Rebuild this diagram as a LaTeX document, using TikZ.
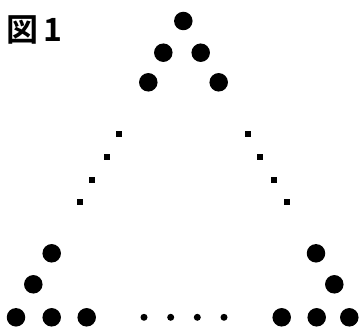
\documentclass[tikz,border=0pt]{standalone}
\usepackage{fontspec}
\newfontfamily\cjk[BoldFont={Noto Sans CJK JP Bold}]{Noto Sans CJK JP}
\begin{document}
\begin{tikzpicture}[x=1pt,y=-1pt,
  big/.style={circle,fill=black,inner sep=0pt,minimum size=18.5pt},
  sml/.style={circle,fill=black,inner sep=0pt,minimum size=7pt},
  sq/.style={rectangle,fill=black,inner sep=0pt,minimum size=6pt}]
\useasboundingbox (0,0) rectangle (361,329);
\node[anchor=west,inner sep=0pt,font=\cjk\bfseries\fontsize{32}{33}\selectfont] (title) at (6,30) {図\hspace{5pt}1};
% top
\node[big] (a1) at (183.3,21) {};
\node[big] (a2) at (163.3,52.7) {};
\node[big] (a3) at (200.7,52.7) {};
\node[big] (a4) at (148.3,82.3) {};
\node[big] (a5) at (218.7,82.3) {};
% side squares
\node[sq] (l1) at (119.3,134) {};
\node[sq] (l2) at (106.7,157.3) {};
\node[sq] (l3) at (92.3,180) {};
\node[sq] (l4) at (80,201.7) {};
\node[sq] (r1) at (247.7,134) {};
\node[sq] (r2) at (260.3,157.3) {};
\node[sq] (r3) at (273.7,180) {};
\node[sq] (r4) at (287,201.7) {};
% bottom left
\node[big] (b1) at (51.7,253.3) {};
\node[big] (b2) at (33.3,284.3) {};
\node[big] (b3) at (16,317.3) {};
\node[big] (b4) at (51.7,317.3) {};
\node[big] (b5) at (86.7,317.3) {};
% bottom middle
\node[sml] (m1) at (144,317.3) {};
\node[sml] (m2) at (170.7,317.3) {};
\node[sml] (m3) at (197.3,317.3) {};
\node[sml] (m4) at (224,317.3) {};
% bottom right
\node[big] (c1) at (316,253.3) {};
\node[big] (c2) at (334.3,284.3) {};
\node[big] (c3) at (281.7,317.3) {};
\node[big] (c4) at (316.7,317.3) {};
\node[big] (c5) at (349.3,317.3) {};
\end{tikzpicture}
\end{document}
